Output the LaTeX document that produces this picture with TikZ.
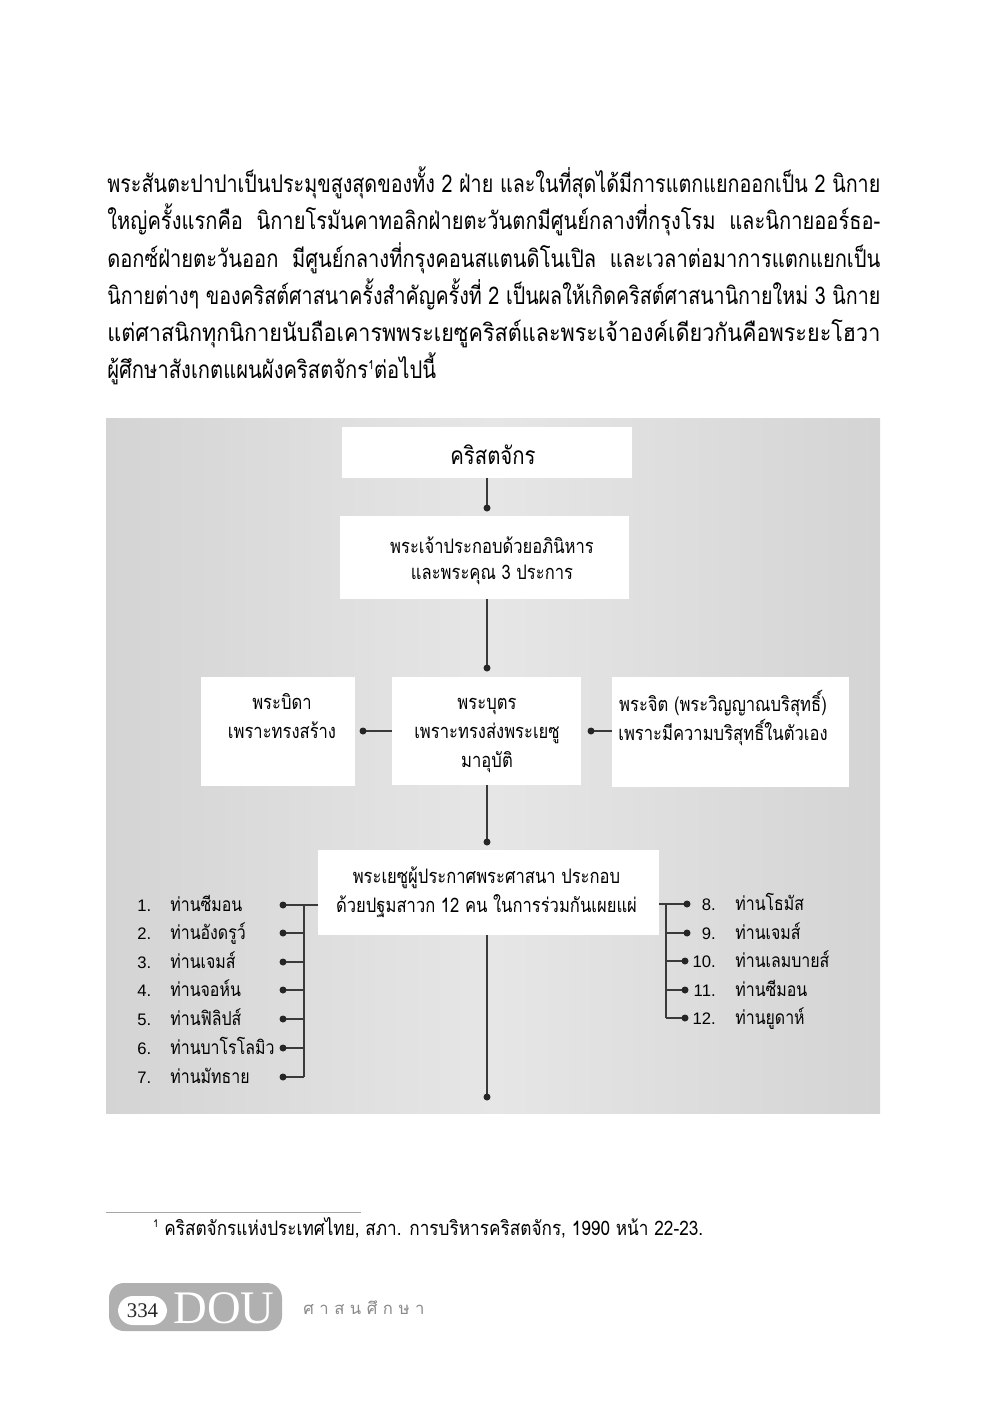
\documentclass[tikz,border=0pt]{standalone}
\usepackage{graphicx}
\usepackage{fontspec}
\newfontfamily\thai[Script=Thai]{Loma}
\newfontfamily\thaiA[Script=Thai,FakeStretch=0.86]{Loma}
\newfontfamily\thaiB[Script=Thai,FakeStretch=0.83]{Loma}
\newfontfamily\tserif{Liberation Serif}
\newfontfamily\tsans{Liberation Sans}
\definecolor{lineC}{HTML}{3A3A3A}
\definecolor{bgEdge}{HTML}{D4D4D4}
\definecolor{bgMid}{HTML}{E6E6E6}
\definecolor{logoG}{HTML}{B0B0B0}
\definecolor{logoT}{HTML}{8A8A8A}
\tikzset{
  px/.style={x=0.6pt,y=-0.6pt},
  box/.style={fill=white,draw=none,inner sep=0pt},
  txt/.style={inner sep=0pt,font=\thaiB\fontsize{12}{17.4}\selectfont,align=center,text=black},
  item/.style={inner sep=0pt,anchor=base west,font=\thaiB\fontsize{11.5}{12}\selectfont,text=black},
  num/.style={inner sep=0pt,font=\tsans\fontsize{10}{12}\selectfont,text=black},
  body/.style={inner sep=0pt,anchor=base west,font=\thaiA\fontsize{14.6}{18}\selectfont,text=black},
  conn/.style={draw=lineC,line width=0.75pt},
  dot/.style={fill=black!85},
}
\newcommand{\dotr}{2.1pt}
\newcommand{\jline}[1]{\resizebox{463.8pt}{\height}{#1}}
\begin{document}
\begin{tikzpicture}[px]
\useasboundingbox (0,0) rectangle (1000,1415);
\fill[white] (0,0) rectangle (1000,1415);

% body paragraph
\node[body] (p1) at (107,192) {\jline{พระสันตะปาปาเป็นประมุขสูงสุดของทั้ง 2 ฝ่าย และในที่สุดได้มีการแตกแยกออกเป็น 2 นิกาย}};
\node[body] (p2) at (107,229) {\jline{ใหญ่ครั้งแรกคือ\ \ นิกายโรมันคาทอลิกฝ่ายตะวันตกมีศูนย์กลางที่กรุงโรม\ \ และนิกายออร์ธอ-}};
\node[body] (p3) at (107,267) {\jline{ดอกซ์ฝ่ายตะวันออก\ \ มีศูนย์กลางที่กรุงคอนสแตนดิโนเปิล\ \ และเวลาต่อมาการแตกแยกเป็น}};
\node[body] (p4) at (107,304) {\jline{นิกายต่างๆ ของคริสต์ศาสนาครั้งสำคัญครั้งที่ 2 เป็นผลให้เกิดคริสต์ศาสนานิกายใหม่ 3 นิกาย}};
\node[body] (p5) at (107,341) {\jline{แต่ศาสนิกทุกนิกายนับถือเคารพพระเยซูคริสต์และพระเจ้าองค์เดียวกันคือพระยะโฮวา}};
\node[body] (p6) at (107,378) {\scalebox{0.965}[1]{ผู้ศึกษาสังเกตแผนผังคริสตจักร\raisebox{0.7ex}{\fontsize{7.5}{8}\selectfont 1}ต่อไปนี้}};

% background panel
\shade[left color=bgEdge,right color=bgEdge,middle color=bgMid] (106,418) rectangle (880,1113);

% boxes
\node[box,minimum width=174pt,minimum height=30.6pt] (church) at (487,452.5) {};
\node[txt,font=\thaiB\fontsize{14.7}{16}\selectfont] (churcht) at (493,455) {คริสตจักร};

\node[box,minimum width=173.4pt,minimum height=49.8pt] (god) at (484.5,557.5) {};
\node[txt,font=\thaiB\fontsize{12}{15.8}\selectfont] (godt) at (492,561) {พระเจ้าประกอบด้วยอภินิหาร\\และพระคุณ 3 ประการ};

\node[box,minimum width=92.4pt,minimum height=65.4pt] (father) at (278,731.5) {};
\node[txt] (fathert) at (282,716) {พระบิดา\\เพราะทรงสร้าง};

\node[box,minimum width=113.4pt,minimum height=64.8pt] (son) at (486.5,731) {};
\node[txt] (sont) at (487,735) {พระบุตร\\เพราะทรงส่งพระเยซู\\มาอุบัติ};

\node[box,minimum width=142.2pt,minimum height=66pt] (spirit) at (730.5,732) {};
\node[txt] (spiritt) at (723,718) {พระจิต (พระวิญญาณบริสุทธิ์)\\เพราะมีความบริสุทธิ์ในตัวเอง};

\node[box,minimum width=204.6pt,minimum height=51pt] (jesus) at (488.5,892.5) {};
\node[txt] (jesust) at (486.5,892) {พระเยซูผู้ประกาศพระศาสนา ประกอบ\\ด้วยปฐมสาวก 12 คน ในการร่วมกันเผยแผ่};

% vertical connectors with dots
\coordinate (d1) at (487,508);
\coordinate (d2) at (487,668);
\coordinate (d3) at (487,842);
\coordinate (d4) at (487,1097);
\draw[conn] (church.south -| d1) -- (d1);
\draw[conn] (god.south -| d2) -- (d2);
\draw[conn] (son.south -| d3) -- (d3);
\draw[conn] (jesus.south -| d4) -- (d4);
\foreach \d in {d1,d2,d3,d4} \fill[dot] (\d) circle (\dotr);

% side connectors
\coordinate (dl) at (363,731);
\coordinate (dr) at (591,731);
\draw[conn] (son.west |- dl) -- (dl);
\draw[conn] (spirit.west |- dr) -- (dr);
\fill[dot] (dl) circle (\dotr);
\fill[dot] (dr) circle (\dotr);

% left list
\foreach \i/\y/\name in {1/905/ท่านซีมอน,2/933/ท่านอังดรูว์,3/962/ท่านเจมส์,4/990/ท่านจอห์น,5/1019/ท่านฟิลิปส์,6/1048/ท่านบาโรโลมิว,7/1077/ท่านมัทธาย}{
  \node[num,anchor=base west] (ln\i) at (137,\y+6) {\i.};
  \node[item] (lt\i) at (170,\y+6) {\name};
  \coordinate (L\i) at (283,\y);
  \coordinate (LV\i) at (304,\y);
  \draw[conn] (L\i) -- (LV\i);
  \fill[dot] (L\i) circle (\dotr);
}
\draw[conn] (LV1) -- (LV7);
\draw[conn] (LV1) -- (jesus.west |- LV1);

% right list
\foreach \i/\y/\name/\dx in {8/904/ท่านโธมัส/687,9/933/ท่านเจมส์/687,10/961/ท่านเลมบายส์/685,11/990/ท่านซีมอน/685,12/1018/ท่านยูดาห์/685}{
  \node[num,anchor=base east] (rn\i) at (716,\y+6) {\i.};
  \node[item] (rt\i) at (735,\y+6) {\name};
  \coordinate (R\i) at (\dx,\y);
  \coordinate (RV\i) at (666,\y);
  \draw[conn] (RV\i) -- (R\i);
  \fill[dot] (R\i) circle (\dotr);
}
\draw[conn] (RV8) -- (RV12);
\draw[conn] (jesus.east |- RV8) -- (RV8);

% footnote
\coordinate (fr1) at (106,1212);
\coordinate (fr2) at (361,1212);
\draw[draw=gray!70,line width=0.5pt] (fr1) -- (fr2);
\node[inner sep=0pt,anchor=base west,font=\thaiA\fontsize{12}{13}\selectfont] (fn) at (153,1235) {\raisebox{0.7ex}{\fontsize{6.5}{7}\selectfont 1}\ คริสตจักรแห่งประเทศไทย, สภา. การบริหารคริสตจักร, 1990 หน้า 22-23.};

% logo
\fill[logoG,rounded corners=9pt] (109,1283) rectangle (282,1331);
\fill[white,rounded corners=9pt] (118,1296) rectangle (167,1325);
\node[inner sep=0pt,font=\tserif\fontsize{12.5}{13}\selectfont,text=black!85] (pg) at (142.5,1310.5) {334};
\node[inner sep=0pt,anchor=base,font=\tserif\fontsize{28}{29}\selectfont,text=white] (dou) at (224,1323) {DOU};
\node[inner sep=0pt,anchor=west,font=\thai\fontsize{10}{12}\selectfont,text=logoT] (sub) at (303,1308) {ศ\hspace{3.3pt}า\hspace{3.3pt}ส\hspace{3.3pt}น\hspace{3.3pt}ศึ\hspace{3.3pt}ก\hspace{3.3pt}ษ\hspace{3.3pt}า};
\end{tikzpicture}
\end{document}
